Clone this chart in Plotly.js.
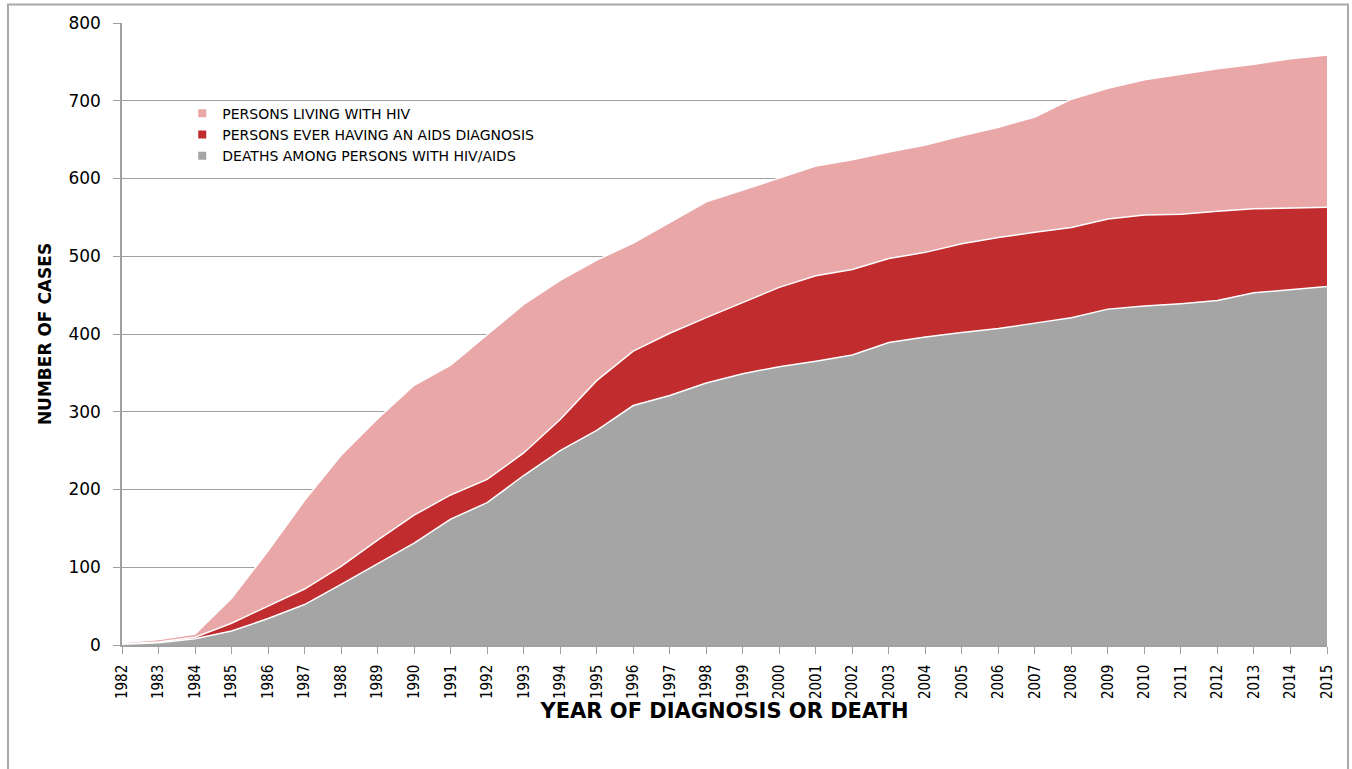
<!DOCTYPE html>
<html>
<head>
<meta charset="utf-8">
<script src="https://cdn.plot.ly/plotly-3.0.1.min.js"></script>
<style>
  html, body { margin: 0; padding: 0; background: #ffffff; }
  #chart { width: 1352px; height: 769px; }
</style>
</head>
<body>
<div id="chart"></div>
<script>
const years = [1982,1983,1984,1985,1986,1987,1988,1989,1990,1991,1992,1993,1994,1995,1996,1997,1998,1999,2000,2001,2002,2003,2004,2005,2006,2007,2008,2009,2010,2011,2012,2013,2014,2015];

const livingWithHIV = [3,7,14,60,121,186,244,291,334,360,399,438,469,495,517,544,570,585,601,616,624,634,643,655,666,679,702,716,727,734,741,747,754,759];

const everAIDS = [1,4,10,28,50,72,101,135,167,193,213,247,290,340,378,401,421,441,460,475,483,497,505,516,524,531,537,548,553,554,558,561,562,563];

const deaths = [1,3,8,18,34,52,78,104,131,162,183,218,250,276,308,321,337,349,358,365,373,389,396,402,407,414,421,432,436,439,443,453,457,461];

const seriesNames = ["PERSONS LIVING WITH HIV", "PERSONS EVER HAVING AN AIDS DIAGNOSIS", "DEATHS AMONG PERSONS WITH HIV/AIDS"];
const seriesColors = ["#E9A7A8", "#C12C2E", "#A5A5A5"];
const yTicks = [0,100,200,300,400,500,600,700,800];

const font = "'DejaVu Sans', 'Open Sans', sans-serif";

function area(name, y, color) {
  return {
    type: "scatter",
    mode: "lines",
    name: name,
    x: years,
    y: y,
    fill: "tozeroy",
    fillcolor: color,
    line: { color: "#ffffff", width: 1.5 },
    showlegend: false,
    hoverinfo: "x+y+name"
  };
}

function legendEntry(name, color) {
  return {
    type: "scatter",
    mode: "markers",
    name: name,
    x: [null],
    y: [null],
    marker: { symbol: "square", size: 8, color: color, line: { width: 0 } },
    showlegend: true,
    hoverinfo: "skip"
  };
}

const data = [
  area(seriesNames[0], livingWithHIV, seriesColors[0]),
  area(seriesNames[1], everAIDS, seriesColors[1]),
  area(seriesNames[2], deaths, seriesColors[2]),
  legendEntry(seriesNames[0], seriesColors[0]),
  legendEntry(seriesNames[1], seriesColors[1]),
  legendEntry(seriesNames[2], seriesColors[2])
];

const layout = {
  width: 1352,
  height: 769,
  margin: { l: 122, r: 25, t: 23, b: 124 },
  paper_bgcolor: "#ffffff",
  plot_bgcolor: "#ffffff",
  showlegend: true,
  legend: {
    x: 0.05, y: 0.88, xanchor: "left", yanchor: "top",
    bgcolor: "rgba(0,0,0,0)",
    font: { family: font, size: 14, color: "#000000" },
    tracegroupgap: 0,
    itemwidth: 30
  },
  xaxis: {
    range: [1982, 2015],
    tickmode: "array",
    tickvals: years,
    ticktext: years.map(String),
    tickangle: -90,
    ticks: "outside",
    ticklen: 7,
    tickcolor: "#A0A0A0",
    ticklabelstandoff: 5,
    showgrid: false,
    showline: true,
    linecolor: "#A0A0A0",
    linewidth: 1.5,
    zeroline: false,
    tickfont: { family: "'Liberation Sans Narrow', 'DejaVu Sans Condensed', sans-serif", size: 15, color: "#000000" },
    title: { text: "<b>YEAR OF DIAGNOSIS OR DEATH</b>", font: { family: font, size: 21, color: "#000000" }, standoff: 4 }
  },
  yaxis: {
    range: [0, 800],
    tickmode: "array",
    tickvals: yTicks,
    ticktext: yTicks.map(String),
    ticks: "outside",
    ticklen: 7,
    tickcolor: "#A0A0A0",
    ticklabelstandoff: 9,
    showgrid: true,
    gridcolor: "#A0A0A0",
    gridwidth: 1,
    showline: true,
    linecolor: "#A0A0A0",
    linewidth: 1.5,
    zeroline: false,
    tickfont: { family: font, size: 17, color: "#000000" },
    title: { text: "<b>NUMBER OF CASES</b>", font: { family: font, size: 17, color: "#000000" }, standoff: 12 }
  },
  shapes: [
    {
      type: "rect", xref: "paper", yref: "paper",
      x0: -114/1205, x1: 1.0174, y0: -0.3, y1: 1.0297,
      line: { color: "#A8A8A8", width: 2 },
      fillcolor: "rgba(0,0,0,0)", layer: "below"
    }
  ]
};

Plotly.newPlot("chart", data, layout, { displayModeBar: false });
</script>
</body>
</html>
